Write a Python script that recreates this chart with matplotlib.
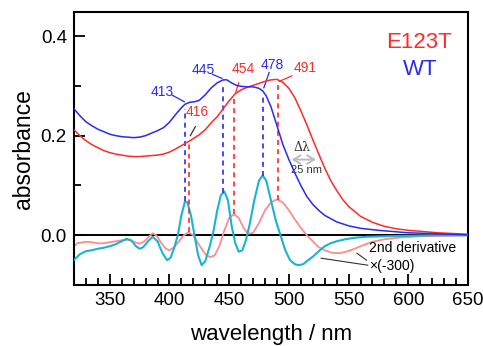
import numpy as np
import matplotlib
matplotlib.use('Agg')
import matplotlib.pyplot as plt
from matplotlib.ticker import MultipleLocator

plt.rcParams['font.family'] = ['Liberation Sans', 'DejaVu Sans']

# absorption spectra
wl_wt = [320, 325, 330, 335, 340, 345, 350, 355, 360, 365, 370, 375, 380, 385, 390,
         395, 400, 405, 410, 413, 417, 421, 425, 430, 435, 440, 445, 448, 452, 456,
         460, 465, 470, 475, 478, 481, 485, 490, 495, 500, 505, 510, 515, 520, 525,
         530, 540, 550, 560, 575, 600, 625, 650]
abs_wt = [0.254, 0.240, 0.228, 0.220, 0.213, 0.208, 0.203, 0.200, 0.198, 0.197, 0.196,
          0.197, 0.200, 0.205, 0.210, 0.216, 0.227, 0.242, 0.256, 0.263, 0.267, 0.268,
          0.271, 0.282, 0.296, 0.306, 0.312, 0.312, 0.306, 0.301, 0.299, 0.298, 0.298,
          0.295, 0.290, 0.280, 0.258, 0.220, 0.182, 0.152, 0.125, 0.100, 0.078, 0.062,
          0.050, 0.040, 0.027, 0.019, 0.014, 0.010, 0.005, 0.003, 0.001]

wl_mut = [320, 325, 330, 335, 340, 345, 350, 355, 360, 365, 370, 375, 380, 385, 390,
          395, 400, 405, 410, 415, 420, 425, 430, 435, 440, 445, 450, 455, 460, 465,
          470, 475, 480, 485, 490, 495, 500, 505, 510, 515, 520, 525, 530, 535, 540,
          545, 550, 560, 570, 580, 590, 600, 625, 650]
abs_mut = [0.212, 0.200, 0.190, 0.182, 0.176, 0.170, 0.166, 0.163, 0.161, 0.159, 0.158,
           0.158, 0.159, 0.160, 0.161, 0.163, 0.167, 0.173, 0.180, 0.187, 0.194, 0.202,
           0.212, 0.226, 0.238, 0.254, 0.270, 0.284, 0.292, 0.297, 0.301, 0.305, 0.309,
           0.312, 0.313, 0.307, 0.295, 0.276, 0.250, 0.222, 0.192, 0.163, 0.135, 0.110,
           0.090, 0.072, 0.058, 0.038, 0.026, 0.018, 0.013, 0.010, 0.005, 0.002]

# 2nd derivative x(-300)
wl_dwt = [320, 325, 330, 335, 340, 345, 350, 355, 360, 364, 368, 372, 375, 378, 382,
          386, 390, 394, 398, 401, 404, 407, 410, 413, 415, 418, 421, 424, 427, 430,
          434, 437, 440, 443, 446, 449, 452, 455, 458, 461, 464, 467, 471, 475, 478,
          481, 485, 489, 493, 497, 501, 505, 508, 512, 516, 520, 525, 530, 535, 540,
          547, 555, 565, 580, 600, 620, 650]
d_wt = [-0.050, -0.038, -0.032, -0.030, -0.027, -0.025, -0.022, -0.018, -0.012, -0.007,
        -0.010, -0.022, -0.027, -0.024, -0.012, -0.003, -0.012, -0.035, -0.050, -0.045,
        -0.025, 0.000, 0.040, 0.068, 0.066, 0.040, 0.000, -0.040, -0.060, -0.052,
        -0.020, 0.010, 0.050, 0.080, 0.088, 0.070, 0.020, -0.015, -0.033, -0.030,
        -0.010, 0.020, 0.070, 0.110, 0.120, 0.110, 0.070, 0.030, 0.000, -0.030,
        -0.050, -0.058, -0.060, -0.058, -0.050, -0.043, -0.032, -0.022, -0.016, -0.012,
        -0.008, -0.005, -0.003, -0.002, -0.001, 0.000, 0.000]

wl_dmut = [320, 323, 330, 335, 340, 345, 350, 355, 360, 365, 370, 375, 379, 383, 386,
           389, 393, 397, 400, 404, 408, 412, 416, 420, 425, 430, 434, 438, 442, 446,
           450, 454, 458, 462, 466, 470, 475, 480, 485, 490, 495, 500, 505, 510, 515,
           520, 525, 530, 536, 542, 548, 555, 562, 570, 580, 595, 610, 630, 650]
d_mut = [-0.022, -0.016, -0.013, -0.014, -0.016, -0.016, -0.014, -0.012, -0.010, -0.009,
         -0.013, -0.017, -0.012, -0.002, 0.004, 0.000, -0.015, -0.027, -0.030, -0.024,
         -0.012, 0.000, 0.006, 0.000, -0.020, -0.038, -0.044, -0.040, -0.020, 0.010,
         0.035, 0.042, 0.035, 0.015, 0.003, 0.005, 0.025, 0.050, 0.066, 0.072, 0.066,
         0.050, 0.032, 0.015, 0.000, -0.012, -0.024, -0.030, -0.035, -0.036, -0.033,
         -0.027, -0.020, -0.013, -0.008, -0.004, -0.002, -0.001, 0.000]

peaks_wt = [413, 445, 478]
peaks_mut = [416, 454, 491]

blue = '#2a2af0'
red = '#ff2a2a'
cyan = '#1ab4d2'
pink = '#ff8c8c'

fig = plt.figure(figsize=(4.83, 3.46), dpi=100)
ax = fig.add_axes([0.153, 0.176, 0.816, 0.789])

ax.axhline(0, color='black', lw=1.4, zorder=1)
ax.plot(wl_dmut, d_mut, color=pink, lw=1.3, zorder=2)
ax.plot(wl_dwt, d_wt, color=cyan, lw=1.5, zorder=3)
ax.plot(wl_mut, abs_mut, color=red, lw=1.1, zorder=4)
ax.plot(wl_wt, abs_wt, color=blue, lw=1.1, zorder=5)

for p in peaks_wt:
    ax.plot([p, p], [np.interp(p, wl_dwt, d_wt), np.interp(p, wl_wt, abs_wt) - 0.01],
            color=blue, lw=1.2, ls=(0, (3, 2.5)), zorder=3)
for p in peaks_mut:
    ax.plot([p, p], [np.interp(p, wl_dmut, d_mut), np.interp(p, wl_mut, abs_mut) - 0.005],
            color=red, lw=1.2, ls=(0, (3, 2.5)), zorder=3)

# peak labels with leader lines
fs = 10
ax.text(394, 0.287, '413', color=blue, fontsize=fs, ha='center', va='center')
ax.plot([402.5, 412.5], [0.281, 0.268], color=blue, lw=0.9)
ax.text(428, 0.332, '445', color=blue, fontsize=fs, ha='center', va='center')
ax.plot([436, 444], [0.323, 0.315], color=blue, lw=0.9)
ax.text(486, 0.341, '478', color=blue, fontsize=fs, ha='center', va='center')
ax.plot([483.5, 479], [0.327, 0.296], color=blue, lw=0.9)
ax.text(423.5, 0.248, '416', color=red, fontsize=fs, ha='center', va='center')
ax.plot([417.5, 421.7], [0.200, 0.218], color='#333333', lw=0.9)
ax.text(462, 0.333, '454', color=red, fontsize=fs, ha='center', va='center')
ax.plot([458, 455.5], [0.306, 0.287], color=red, lw=0.9)
ax.text(514, 0.335, '491', color=red, fontsize=fs, ha='center', va='center')
ax.plot([502.5, 492], [0.320, 0.309], color=red, lw=0.9)

ax.text(609, 0.386, 'E123T', color=red, fontsize=16, ha='center', va='center')
ax.text(610, 0.332, 'WT', color=blue, fontsize=16, ha='center', va='center')

# delta lambda arrow
ax.annotate('', xy=(525, 0.152), xytext=(500, 0.152),
            arrowprops=dict(arrowstyle='<->,head_length=0.5,head_width=0.3',
                            color='#bbbbbb', lw=1.4))
ax.text(511, 0.177, 'Δλ', fontsize=9, color='#333333', ha='center', va='center',
        family=['DejaVu Serif', 'DejaVu Sans'])
ax.text(515, 0.131, '25 nm', fontsize=8, color='#333333', ha='center', va='center')

ax.text(567, -0.026, '2nd derivative', fontsize=10, ha='left', va='center')
ax.text(567, -0.061, '×(-300)', fontsize=10, ha='left', va='center')
ax.plot([557, 565], [-0.036, -0.050], color='#333333', lw=0.8)
ax.plot([527, 566], [-0.046, -0.060], color='#333333', lw=0.8)

ax.set_xlim(320, 650)
ax.set_ylim(-0.1, 0.448)
ax.xaxis.set_major_locator(MultipleLocator(50))
ax.xaxis.set_minor_locator(MultipleLocator(10))
ax.yaxis.set_major_locator(MultipleLocator(0.2))
ax.yaxis.set_minor_locator(MultipleLocator(0.1))
ax.set_yticks([0.0, 0.2, 0.4])
ax.set_yticklabels(['0.0', '0.2', '0.4'])
ax.tick_params(which='both', direction='in', labelsize=13.5, width=1.3)
ax.tick_params(which='major', length=8, pad=5)
ax.tick_params(which='minor', length=5)
for s in ax.spines.values():
    s.set_linewidth(1.5)

ax.set_xlabel('wavelength / nm', fontsize=16, labelpad=11)
ax.set_ylabel('absorbance', fontsize=16.5, labelpad=4)

fig.savefig('out.png', dpi=100)
